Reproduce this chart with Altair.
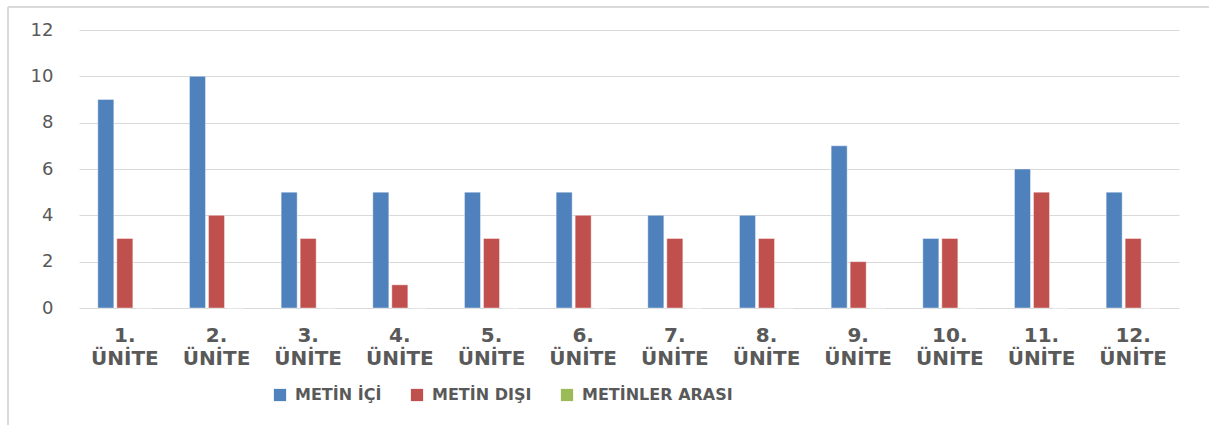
import altair as alt
import pandas as pd

units = ["1. ÜNİTE", "2. ÜNİTE", "3. ÜNİTE", "4. ÜNİTE", "5. ÜNİTE", "6. ÜNİTE",
         "7. ÜNİTE", "8. ÜNİTE", "9. ÜNİTE", "10. ÜNİTE", "11. ÜNİTE", "12. ÜNİTE"]
series = ["METİN İÇİ", "METİN DIŞI", "METİNLER ARASI"]
metin_ici = [9, 10, 5, 5, 5, 5, 4, 4, 7, 3, 6, 5]
metin_disi = [3, 4, 3, 1, 3, 4, 3, 3, 2, 3, 5, 3]
metinler_arasi = [0, 0, 0, 0, 0, 0, 0, 0, 0, 0, 0, 0]
colors = ["#4F81BD", "#C0504D", "#9BBB59"]

rows = []
for s, vals in zip(series, [metin_ici, metin_disi, metinler_arasi]):
    for u, v in zip(units, vals):
        rows.append({"unit": u, "series": s, "value": v})
df = pd.DataFrame(rows)

FONT = "DejaVu Sans"
GRAY = "#595959"

bars = alt.Chart(df).mark_bar(stroke="#ffffff", strokeOpacity=0.5, strokeWidth=0.8).encode(
    x=alt.X("unit:N", sort=units, title=None,
            scale=alt.Scale(paddingInner=0, paddingOuter=0),
            axis=alt.Axis(labelExpr="split(datum.label, ' ')", labelAngle=0,
                          labelFont=FONT, labelFontWeight="bold", labelFontSize=20,
                          labelColor=GRAY, labelLineHeight=23, labelPadding=17,
                          labelBaseline="top",
                          ticks=False, domain=False, grid=False)),
    xOffset=alt.XOffset("series:N", sort=series,
                        scale=alt.Scale(paddingInner=0.158, paddingOuter=0.99)),
    y=alt.Y("value:Q", title=None,
            scale=alt.Scale(domain=[0, 12], nice=False),
            axis=alt.Axis(values=[0, 2, 4, 6, 8, 10, 12], labelFont=FONT,
                          labelFontSize=18, labelColor=GRAY, labelPadding=26,
                          ticks=False, domain=False, grid=True,
                          gridColor="#d9d9d9", gridWidth=1.2)),
    color=alt.Color("series:N", sort=series,
                    scale=alt.Scale(domain=series, range=colors),
                    legend=alt.Legend(title=None, orient="none", direction="horizontal",
                                      legendX=193, legendY=357,
                                      symbolType="square", symbolSize=150,
                                      symbolStrokeWidth=0,
                                      labelFont=FONT, labelFontWeight="bold",
                                      labelFontSize=16, labelColor=GRAY, labelLimit=400,
                                      labelOffset=7, columnPadding=27, padding=0)),
)

one = alt.Data(values=[{}])
top_rule = alt.Chart(one).mark_rule(color="#d9d9d9", strokeWidth=2).encode(
    x=alt.value(-71), x2=alt.value(1140), y=alt.value(-23))
left_rule = alt.Chart(one).mark_rule(color="#d9d9d9", strokeWidth=2).encode(
    x=alt.value(-71), y=alt.value(-23), y2=alt.value(400))

chart = alt.layer(top_rule, left_rule, bars).properties(
    width=1100, height=278,
    autosize=alt.AutoSizeParams(type="none"),
    padding={"left": 79, "top": 30, "right": 30, "bottom": 117},
    background="white",
).configure_view(stroke=None)

chart.save("out.html", embed_options={"renderer": "svg", "actions": False})
